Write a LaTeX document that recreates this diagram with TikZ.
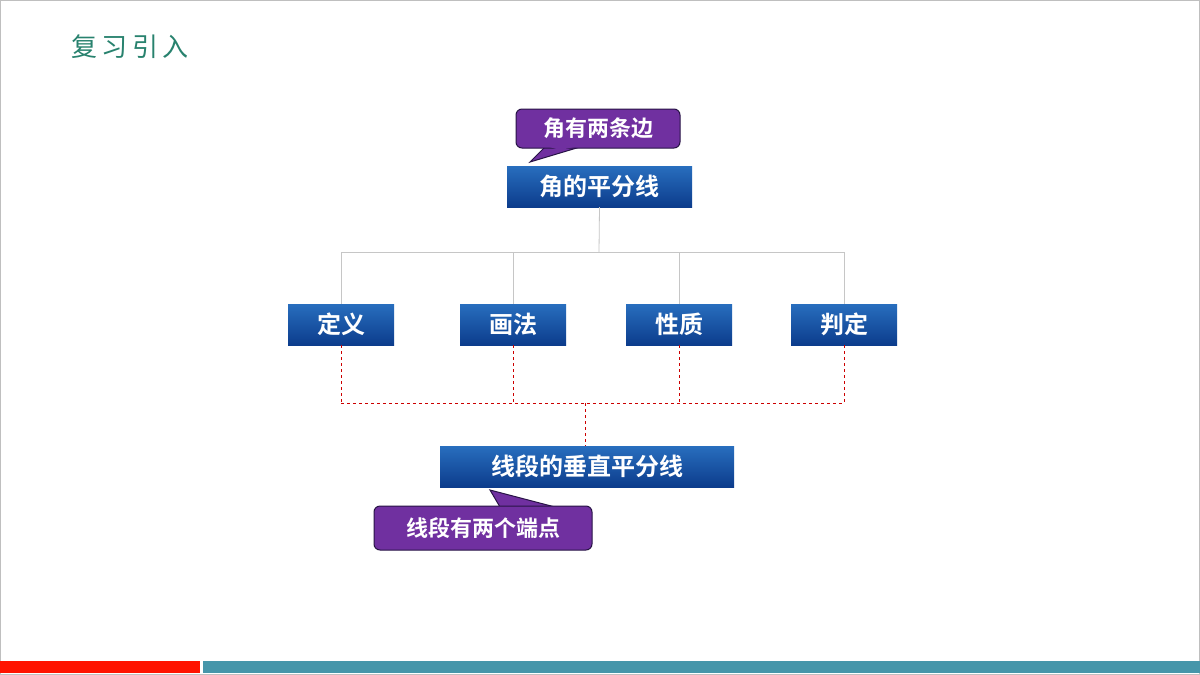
\documentclass[tikz,border=0pt]{standalone}
\usepackage{fontspec}
\newfontfamily\cjk{Noto Sans CJK SC}
\newfontfamily\cjkb{Noto Sans CJK SC Bold}
\begin{document}
\begin{tikzpicture}[x=1pt,y=-1pt,
  bluebox/.style={top color=blue1,bottom color=blue2,draw=none,minimum height=41pt,inner sep=0pt,text=white,font=\cjkb\fontsize{24}{24}\selectfont},
  callout/.style={fill=purp,draw=purpd,line width=1pt,rounded corners=6pt,text=white,font=\cjkb\fontsize{22}{22}\selectfont},
  gline/.style={draw=gray!45,line width=0.8pt},
  rline/.style={draw=red!80!black,dashed,line width=0.9pt}]
\definecolor{blue1}{RGB}{40,110,190}
\definecolor{blue2}{RGB}{12,60,140}
\definecolor{purp}{RGB}{112,48,160}
\definecolor{purpd}{RGB}{40,20,70}
\definecolor{teal1}{RGB}{40,130,110}
\definecolor{teal2}{RGB}{70,150,170}
\useasboundingbox (0,0) rectangle (1200,675);
\fill[white] (0,0) rectangle (1200,675);
\draw[gray!50] (0.5,0.5) rectangle (1199.5,674.5);
\node[text=teal1,font=\cjk\fontsize{26}{26}\selectfont,anchor=west] (title) at (68,47) {复\,习\,引\,入};
\fill[red!85!orange] (0,661) rectangle (200,673);
\fill[teal2] (203,661) rectangle (1200,673);
% top callout
\fill[purp,draw=purpd,line width=1pt] (545,147) -- (530,162) -- (580,147) -- cycle;
\node[callout,minimum width=164pt,minimum height=39pt,inner sep=0pt] (c1) at (598,128.5) {角有两条边};
\fill[purp] (546,146) -- (579,146) -- (560,150) -- cycle;
\node[bluebox,minimum width=185pt] (main) at (599.5,186.5) {角的平分线};
\node[bluebox,minimum width=106pt] (d1) at (341,324.5) {定义};
\node[bluebox,minimum width=106pt] (d2) at (513,324.5) {画法};
\node[bluebox,minimum width=106pt] (d3) at (679,324.5) {性质};
\node[bluebox,minimum width=106pt] (d4) at (844,324.5) {判定};
\node[bluebox,minimum width=294pt] (seg) at (587,466.5) {线段的垂直平分线};
% bottom callout
\fill[purp,draw=purpd,line width=1pt] (500,507) -- (490,490) -- (555,507) -- cycle;
\node[callout,minimum width=218pt,minimum height=44pt,inner sep=0pt] (c2) at (483,528) {线段有两个端点};
\fill[purp] (501,508) -- (553,508) -- (520,511) -- cycle;
% gray tree
\coordinate (g0) at (599,252);
\draw[gline] (main.south) -- (g0);
\draw[gline] (341,252) -- (844,252);
\foreach \n/\x in {d1/341,d2/513,d3/679,d4/844} \draw[gline] (\x,252) -- (\n.north);
% red dashed
\foreach \n in {d1,d2,d3,d4} \draw[rline] (\n.south) -- (\n.south |- 0,403);
\draw[rline] (341,403) -- (844,403);
\draw[rline] (585,403) -- (585,446);
\end{tikzpicture}
\end{document}
